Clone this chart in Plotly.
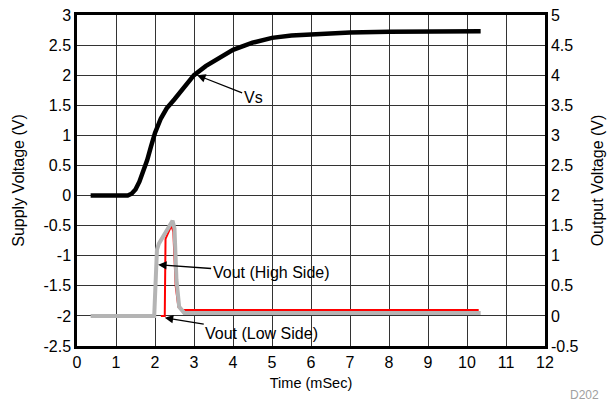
import plotly.graph_objects as go

# supply voltage Vs (left axis)
vs_time = [0.35, 1.0, 1.3, 1.4, 1.5, 1.6, 1.7, 1.8, 1.9, 2.0, 2.15, 2.3, 2.5, 2.75, 3.0, 3.3, 3.6, 4.0, 4.5,
           5.0, 5.5, 6.0, 6.5, 7.0, 8.0, 9.0, 10.35]
vs_volt = [0.0, 0.0, 0.0, 0.03, 0.1, 0.23, 0.4, 0.59, 0.82, 1.04, 1.28, 1.45, 1.6, 1.8, 2.0, 2.15, 2.27, 2.42, 2.54,
           2.62, 2.66, 2.68, 2.7, 2.71, 2.72, 2.73, 2.73]

# output voltage, high side (right axis)
hi_time = [0.35, 1.98, 2.05, 2.1, 2.45, 2.5, 2.55, 2.62, 2.75, 10.35]
hi_volt = [0.0, 0.0, 1.1, 1.2, 1.58, 1.45, 0.6, 0.15, 0.05, 0.05]

# output voltage, low side (right axis)
lo_time = [2.15, 2.25, 2.27, 2.42, 2.47, 2.53, 2.6, 2.7, 10.3]
lo_volt = [0.0, 0.0, 1.28, 1.5, 1.4, 0.5, 0.15, 0.1, 0.1]

x_ticks = list(range(0, 13))
left_ticks = [-2.5, -2, -1.5, -1, -0.5, 0, 0.5, 1, 1.5, 2, 2.5, 3]
right_ticks = [-0.5, 0, 0.5, 1, 1.5, 2, 2.5, 3, 3.5, 4, 4.5, 5]

font = "Liberation Sans, Arial, sans-serif"

fig = go.Figure()
fig.add_trace(go.Scatter(x=vs_time, y=vs_volt, mode="lines", line=dict(color="black", width=4.5),
                         name="Vs", yaxis="y"))
fig.add_trace(go.Scatter(x=lo_time, y=lo_volt, mode="lines", line=dict(color="#ff0000", width=2),
                         name="Vout (Low Side)", yaxis="y2"))
fig.add_trace(go.Scatter(x=hi_time, y=hi_volt, mode="lines", line=dict(color="#b4b4b4", width=4),
                         name="Vout (High Side)", yaxis="y2"))

axis_common = dict(showline=True, linecolor="black", linewidth=2.5, mirror=True, ticks="",
                   zeroline=False, automargin=False,
                   tickfont=dict(size=16, color="black", family=font))
title_font_y = dict(size=16, color="black", family=font)

fig.update_layout(
    width=610, height=401, showlegend=False,
    plot_bgcolor="white", paper_bgcolor="white",
    margin=dict(l=77, r=65, t=15, b=55),
    font=dict(family=font, size=14, color="black"),
    xaxis=dict(range=[0, 12], tickvals=x_ticks, gridcolor="#333333", gridwidth=1,
               title=dict(text="Time (mSec)", standoff=8, font=dict(size=14.5, color="black", family=font)),
               **axis_common),
    yaxis=dict(range=[-2.5, 3], tickvals=left_ticks, ticktext=[f"{v:g}" for v in left_ticks],
               gridcolor="#333333", gridwidth=1,
               title=dict(text="Supply Voltage (V)", standoff=15, font=title_font_y), **axis_common),
    yaxis2=dict(range=[-0.5, 5], tickvals=right_ticks, ticktext=[f"{v:g}" for v in right_ticks],
                overlaying="y", side="right", showgrid=False,
                title=dict(text="Output Voltage (V)", standoff=15, font=title_font_y), **axis_common),
)

arrow = dict(showarrow=True, arrowhead=2, arrowsize=1.3, arrowwidth=1.3, arrowcolor="black",
             font=dict(size=16, color="black"))
fig.add_annotation(x=3.08, y=2.0, xref="x", yref="y", text="Vs", ax=56, ay=22, **arrow)
fig.add_annotation(x=2.08, y=0.85, xref="x", yref="y2", text="Vout (High Side)", ax=113, ay=8, **arrow)
fig.add_annotation(x=2.25, y=-0.03, xref="x", yref="y2", text="Vout (Low Side)", ax=97, ay=16, **arrow)
fig.add_annotation(x=1.0, y=0, xref="paper", yref="paper", xanchor="right", yanchor="top", xshift=56, yshift=-40,
                   text="D202", showarrow=False, font=dict(size=12, color="#a0a0a0"))

fig.write_html("out.html", config={"displayModeBar": False},
               post_script="document.body.style.margin='0';")
